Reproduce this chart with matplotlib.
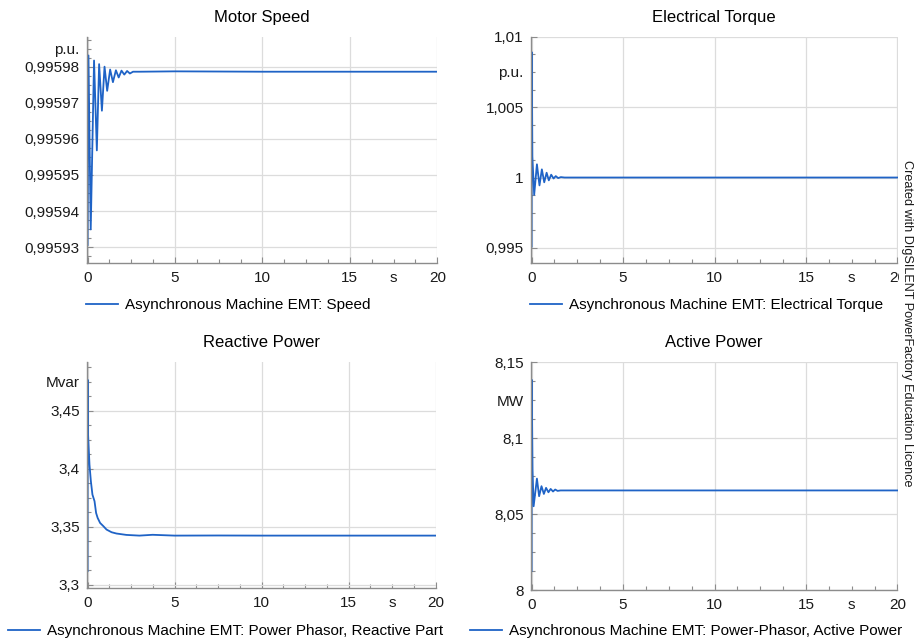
import matplotlib
matplotlib.use("Agg")
import matplotlib.pyplot as plt
from matplotlib.ticker import FixedLocator, FixedFormatter, MultipleLocator, FuncFormatter
import numpy as np

plt.rcParams['font.family'] = ['Liberation Sans', 'DejaVu Sans']

# ---------------- data ----------------
speed_t = [0.0, 0.05, 0.18, 0.37, 0.53, 0.66, 0.82, 0.97, 1.12, 1.29, 1.45, 1.62, 1.78,
           1.94, 2.10, 2.26, 2.42, 2.60, 3.0, 5.0, 10.0, 15.0, 20.0]
speed_v = [0.9959306, 0.9959831, 0.9959349, 0.9959817, 0.9959568, 0.9959807, 0.9959678,
           0.9959800, 0.9959733, 0.9959792, 0.9959757, 0.9959790, 0.9959770, 0.9959789,
           0.9959778, 0.9959788, 0.9959781, 0.9959786, 0.9959786, 0.9959787, 0.9959786,
           0.9959786, 0.9959786]

torque_t = [0.0, 0.01, 0.04, 0.14, 0.29, 0.43, 0.56, 0.69, 0.82, 0.94, 1.07, 1.20, 1.32,
            1.45, 1.60, 1.80, 5.0, 10.0, 15.0, 20.0]
torque_v = [0.9951, 1.0089, 1.0015, 0.99877, 1.00094, 0.99944, 1.00058, 0.99966, 1.00034,
            0.99980, 1.00020, 0.99993, 1.00010, 0.99996, 1.00003, 1.00000, 1.00000,
            1.00000, 1.00000, 1.00000]

q_t = [0.0, 0.005, 0.02, 0.11, 0.19, 0.28, 0.40, 0.49, 0.58, 0.72, 0.91, 1.09, 1.38, 1.66,
       2.23, 2.98, 3.74, 5.0, 7.5, 10.0, 15.0, 20.0]
q_v = [3.3119, 3.4766, 3.4322, 3.4036, 3.3893, 3.3778, 3.3721, 3.3620, 3.3577, 3.3534,
       3.3506, 3.3477, 3.3454, 3.3443, 3.3431, 3.3425, 3.3432, 3.3425, 3.3426, 3.3425,
       3.3425, 3.3425]

p_t = [0.0, 0.005, 0.05, 0.11, 0.29, 0.41, 0.54, 0.67, 0.79, 0.92, 1.04, 1.17, 1.29, 1.42,
       1.58, 5.0, 10.0, 15.0, 20.0]
p_v = [8.0125, 8.1383, 8.0792, 8.0551, 8.0733, 8.0617, 8.0683, 8.0632, 8.0672, 8.0643,
       8.0665, 8.0648, 8.0661, 8.0652, 8.0655, 8.0655, 8.0655, 8.0655, 8.0655]

x_ticks = [0, 5, 10, 15, 20]
x_labels = ['0', '5', '10', '15', '20']
x_unit = 's'

speed_ticks = [0.99593, 0.99594, 0.99595, 0.99596, 0.99597, 0.99598]
speed_labels = ['0,99593', '0,99594', '0,99595', '0,99596', '0,99597', '0,99598']
torque_ticks = [0.995, 1.0, 1.005, 1.01]
torque_labels = ['0,995', '1', '1,005', '1,01']
q_ticks = [3.3, 3.35, 3.4, 3.45]
q_labels = ['3,3', '3,35', '3,4', '3,45']
p_ticks = [8.0, 8.05, 8.1, 8.15]
p_labels = ['8', '8,05', '8,1', '8,15']

titles = ['Motor Speed', 'Electrical Torque', 'Reactive Power', 'Active Power']
legends = ['Asynchronous Machine EMT: Speed',
           'Asynchronous Machine EMT: Electrical Torque',
           'Asynchronous Machine EMT: Power Phasor, Reactive Part',
           'Asynchronous Machine EMT: Power-Phasor, Active Power']
units = ['p.u.', 'p.u.', 'Mvar', 'MW']

# ---------------- layout ----------------
W, H = 917, 644
fig = plt.figure(figsize=(W / 100, H / 100), dpi=100)
LINE = '#1f63c6'
SPINE = '#8c8c8c'
GRID = '#dcdcdc'


def make_ax(l, r, t, b):
    return fig.add_axes([l / W, 1 - b / H, (r - l) / W, (b - t) / H])


panels = [
    dict(box=(86.7, 437.3, 36.7, 263.0), t=speed_t, v=speed_v, ylim=(0.9959256, 0.9959883),
         yt=speed_ticks, yl=speed_labels, ystep=0.00001, unit_y=0.995985,
         leg_x=86, leg_y=305.5),
    dict(box=(530.7, 897.5, 36.7, 263.0), t=torque_t, v=torque_v, ylim=(0.99393, 1.01),
         yt=torque_ticks, yl=torque_labels, ystep=0.005, unit_y=1.0075,
         leg_x=530, leg_y=305.5),
    dict(box=(86.7, 435.5, 361.7, 588.0), t=q_t, v=q_v, ylim=(3.2974, 3.4922),
         yt=q_ticks, yl=q_labels, ystep=0.05, unit_y=3.475,
         leg_x=8, leg_y=631.5),
    dict(box=(530.7, 897.5, 362.0, 590.0), t=p_t, v=p_v, ylim=(8.0, 8.15),
         yt=p_ticks, yl=p_labels, ystep=0.05, unit_y=8.125,
         leg_x=470, leg_y=631.5),
]

for i, pd_ in enumerate(panels):
    ax = make_ax(*pd_['box'])
    line, = ax.plot(pd_['t'], pd_['v'], color=LINE, lw=1.3, label=legends[i])
    ax.set_xlim(-0.05, 20)
    ax.set_ylim(*pd_['ylim'])

    ax.xaxis.set_major_locator(FixedLocator(x_ticks))
    ax.xaxis.set_major_formatter(FixedFormatter(x_labels))
    ax.xaxis.set_minor_locator(MultipleLocator(1.25))
    ax.xaxis.set_minor_formatter(FuncFormatter(
        lambda val, pos: x_unit if abs(val - 17.5) < 1e-6 else ''))

    ax.yaxis.set_major_locator(FixedLocator(pd_['yt']))
    ax.yaxis.set_major_formatter(FixedFormatter(pd_['yl']))
    step = pd_['ystep'] / 4
    ax.yaxis.set_minor_locator(MultipleLocator(step))
    uy = pd_['unit_y']
    un = units[i]
    ax.yaxis.set_minor_formatter(FuncFormatter(
        lambda val, pos, uy=uy, un=un, st=step: un if abs(val - uy) < st * 0.1 else ''))

    ax.tick_params(axis='both', which='both', direction='in', colors=SPINE,
                   labelcolor='#1a1a1a', labelsize=11)
    ax.tick_params(axis='both', which='major', length=4, width=0.8)
    ax.tick_params(axis='both', which='minor', length=3, width=0.8)
    ax.tick_params(axis='x', which='both', pad=5.5)
    ax.tick_params(axis='y', which='both', pad=5)

    ax.grid(True, which='major', color=GRID, lw=0.9)
    ax.set_axisbelow(True)
    for s in ['top', 'right']:
        ax.spines[s].set_visible(False)
    for s in ['left', 'bottom']:
        ax.spines[s].set_color(SPINE)
        ax.spines[s].set_linewidth(1.0)

    ax.set_title(titles[i], fontsize=12, pad=10.5)

    fig.legend(handles=[line], labels=[legends[i]], loc='center left',
               bbox_to_anchor=(pd_['leg_x'] / W, 1 - pd_['leg_y'] / H),
               frameon=False, fontsize=11, handlelength=2.1, handletextpad=0.46,
               borderpad=0, borderaxespad=0)

fig.text(907 / W, 1 - 323 / H, 'Created with DIgSILENT PowerFactory Education Licence',
         rotation=270, ha='center', va='center', fontsize=9.1, color='#1a1a1a',
         bbox=dict(facecolor='white', edgecolor='none', pad=1.5), zorder=10)

fig.savefig('out.png', dpi=100)
